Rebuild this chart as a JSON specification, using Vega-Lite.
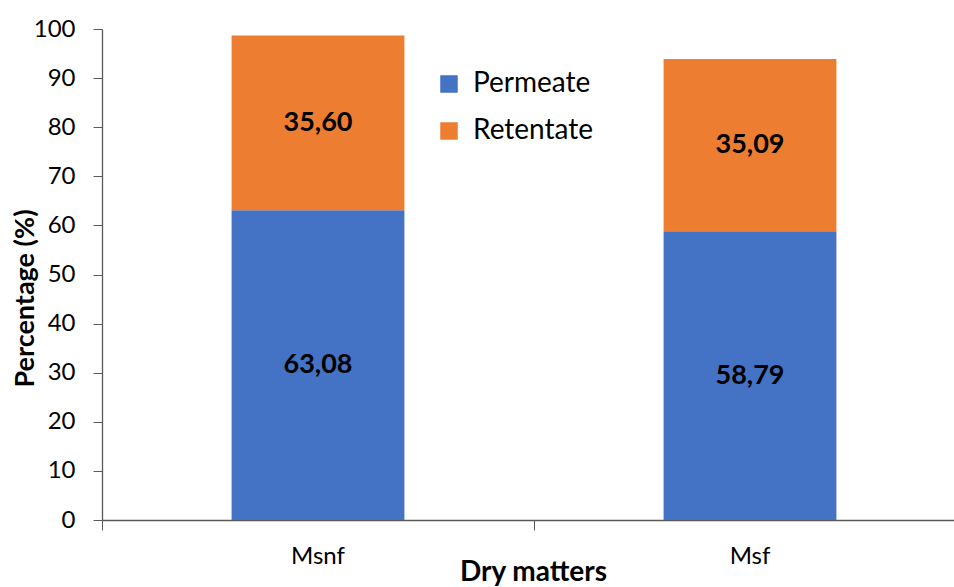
{
  "$schema": "https://vega.github.io/schema/vega-lite/v6.json",
  "width": 852,
  "height": 491,
  "autosize": {"type": "none"},
  "padding": {"left": 102, "top": 29, "right": 0, "bottom": 67},
  "background": "white",
  "config": {
    "font": "Lato",
    "view": {"stroke": null},
    "axis": {"grid": false, "domainColor": "#595959", "tickColor": "#595959", "labelColor": "#000000", "titleColor": "#000000", "labelFont": "Lato", "titleFont": "Lato"}
  },
  "data": {
    "values": [
      {"category": "Msnf", "series": "Permeate", "value": 63.08, "label": "63,08", "order": 1},
      {"category": "Msnf", "series": "Retentate", "value": 35.60, "label": "35,60", "order": 2},
      {"category": "Msf", "series": "Permeate", "value": 58.79, "label": "58,79", "order": 1},
      {"category": "Msf", "series": "Retentate", "value": 35.09, "label": "35,09", "order": 2}
    ]
  },
  "encoding": {
    "x": {
      "field": "category", "type": "nominal", "sort": ["Msnf", "Msf"],
      "scale": {"range": [0, 864], "paddingInner": 0, "paddingOuter": 0},
      "axis": {
        "title": "Dry matters", "labelAngle": 0, "labelFontSize": 24, "labelPadding": 14,
        "tickSize": 10, "bandPosition": 0, "domainWidth": 1.3,
        "titleFontSize": 28, "titleFontWeight": "bold", "titleY": 60, "titleX": 431, "titleBaseline": "alphabetic"
      }
    },
    "y": {
      "field": "value", "type": "quantitative", "stack": "zero",
      "scale": {"domain": [0, 100], "nice": false},
      "axis": {
        "title": "Percentage (%)", "values": [0,10,20,30,40,50,60,70,80,90,100],
        "labelFontSize": 24, "labelPadding": 18, "tickSize": 9, "domainWidth": 1.3,
        "titleFontSize": 27, "titleFontWeight": "bold", "titleX": -77, "titleY": 269,
        "titleAngle": -90, "titleAlign": "center", "titleBaseline": "middle"
      }
    },
    "order": {"field": "order", "type": "quantitative"}
  },
  "layer": [
    {
      "mark": {"type": "bar", "width": {"band": 0.4}},
      "encoding": {
        "color": {
          "field": "series", "type": "nominal",
          "scale": {"domain": ["Permeate", "Retentate"], "range": ["#4472C4", "#ED7D31"]},
          "legend": {
            "title": null, "orient": "none", "legendX": 333, "legendY": 41,
            "symbolType": "square", "symbolSize": 306, "symbolStrokeWidth": 0,
            "labelFontSize": 28, "labelFont": "Lato", "labelColor": "#000000", "labelOffset": 10, "rowPadding": 19, "padding": 0
          }
        }
      }
    },
    {
      "mark": {"type": "text", "fontSize": 27, "fontWeight": "bold", "color": "#000000", "baseline": "middle", "font": "Lato"},
      "encoding": {
        "y": {"field": "value", "type": "quantitative", "stack": "zero", "bandPosition": 0.5},
        "text": {"field": "label"}
      }
    }
  ]
}
